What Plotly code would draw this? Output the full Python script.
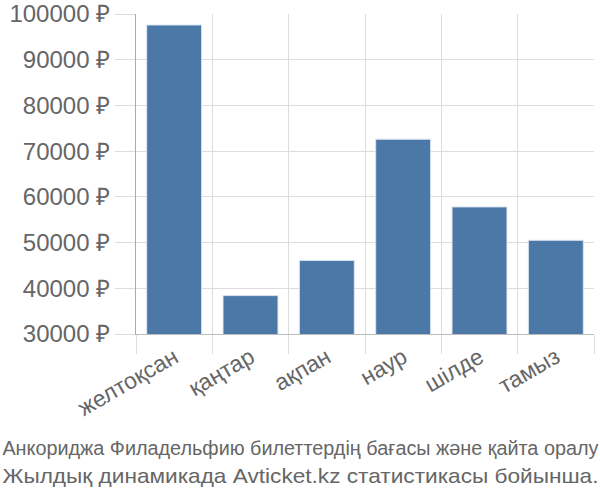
import plotly.graph_objects as go

months = ["желтоқсан", "қаңтар", "ақпан", "наур", "шілде", "тамыз"]
prices = [97600, 38400, 46100, 72600, 57800, 50500]
y_ticks = [30000, 40000, 50000, 60000, 70000, 80000, 90000, 100000]
y_labels = [f"{v} ₽" for v in y_ticks]
title_lines = ["Анкориджа Филадельфию билеттердің бағасы және қайта оралу",
               "Жылдық динамикада Avticket.kz статистикасы бойынша."]
title_sizes = [19.5, 21]

fig = go.Figure(go.Bar(
    x=months, y=prices,
    marker=dict(color="#4c78a8", line=dict(color="#dbe5f0", width=1)),
    hoverinfo="skip",
))

fig.update_layout(
    width=600, height=500,
    margin=dict(l=136, r=6, t=14, b=166),
    plot_bgcolor="white", paper_bgcolor="white",
    bargap=0.28,
    showlegend=False,
    font=dict(family="Liberation Sans, Arial, sans-serif", color="#666666"),
)
fig.update_xaxes(
    type="category", tickson="boundaries", automargin=False,
    showgrid=True, gridcolor="#dddddd", gridwidth=1,
    ticks="outside", ticklen=19, tickcolor="#dddddd",
    showline=True, linecolor="#bbbbbb", linewidth=1,
    tickangle=-30, tickfont=dict(size=23, color="#666666"),
)
fig.update_yaxes(
    range=[30000, 100000], automargin=False,
    tickvals=y_ticks, ticktext=y_labels,
    showgrid=True, gridcolor="#dddddd", gridwidth=1,
    ticks="outside", ticklen=20, tickcolor="#dddddd",
    showline=True, linecolor="#aaaaaa", linewidth=1,
    zeroline=False,
    tickfont=dict(size=24, color="#666666"),
)
for i, line in enumerate(title_lines):
    fig.add_annotation(
        text=line, xref="paper", yref="paper",
        x=(300 - 136) / 458, xanchor="center",
        y=(334 - (448 + 27 * i)) / 320, yanchor="middle",
        showarrow=False,
        font=dict(family="Liberation Sans, Arial, sans-serif", size=title_sizes[i], color="#666666"),
    )

post = """
document.body.style.margin='0';
document.querySelectorAll('text.annotation-text').forEach(function(t){
  t.setAttribute('textLength','596');
  t.setAttribute('lengthAdjust','spacingAndGlyphs');
});
"""
fig.write_html("out.html", post_script=post, config={"displayModeBar": False})
